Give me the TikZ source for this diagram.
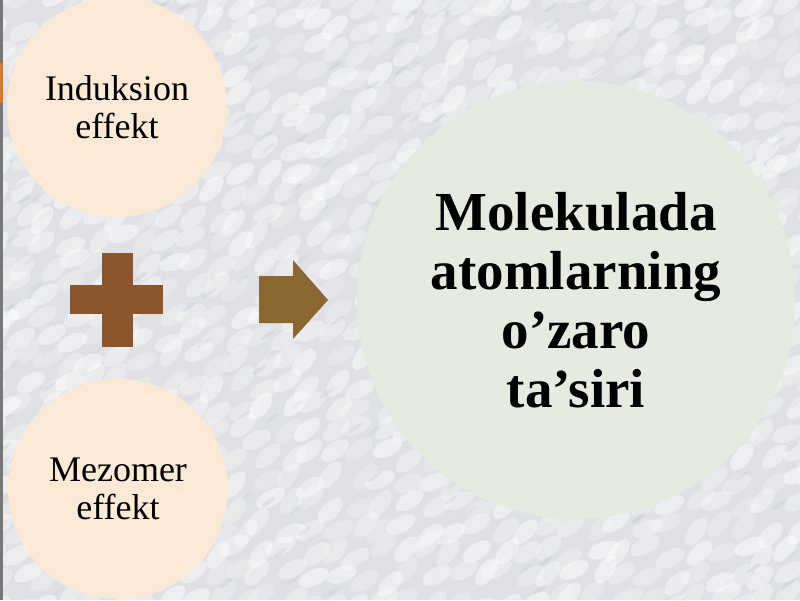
\documentclass[tikz,border=0pt]{standalone}
\usepackage{fontspec}
\setmainfont{Liberation Serif}
\definecolor{bgbase}{RGB}{223,225,228}
\definecolor{bgdark}{RGB}{165,170,178}
\definecolor{peach}{RGB}{252,234,215}
\definecolor{sage}{RGB}{230,235,226}
\definecolor{plusbrown}{RGB}{139,86,45}
\definecolor{arrowbrown}{RGB}{139,104,50}
\definecolor{edgegrey}{RGB}{120,120,120}
\definecolor{edgeorange}{RGB}{220,120,40}
\tikzset{
  smallcirc/.style={circle, fill=peach, minimum size=220pt, inner sep=0pt, align=center,
    font=\fontsize{36}{38}\selectfont},
  bigcirc/.style={circle, fill=sage, minimum size=438pt, inner sep=0pt, align=center,
    font=\fontsize{55}{59}\selectfont\bfseries},
}
\begin{document}
\begin{tikzpicture}[x=1pt,y=-1pt]
\useasboundingbox (0,0) rectangle (800,600);
\clip (0,0) rectangle (800,600);
\fill[bgbase] (0,0) rectangle (800,600);
% soft knit-like texture
\pgfmathsetseed{7}
\foreach \i in {0,...,34}{
  \foreach \j in {0,...,26}{
    \pgfmathsetmacro{\xx}{\i*24+rnd*16-8}
    \pgfmathsetmacro{\yy}{\j*24+rnd*16-8}
    \pgfmathsetmacro{\rr}{20+rnd*35}
    \pgfmathsetmacro{\oo}{0.2+rnd*0.3}
    \fill[white,opacity=\oo,rotate around={\rr:(\xx,\yy)}] (\xx,\yy) ellipse (16 and 8);
  }
}
\pgfmathsetseed{11}
\foreach \k in {1,...,260}{
  \pgfmathsetmacro{\xx}{rnd*800}
  \pgfmathsetmacro{\yy}{rnd*600}
  \pgfmathsetmacro{\oo}{0.06+rnd*0.15}
  \fill[bgdark,opacity=\oo,rotate around={35:(\xx,\yy)}] (\xx,\yy) ellipse (8 and 2);
}
% left edge
\fill[edgegrey] (0,0) rectangle (2.5,600);
\fill[edgeorange] (0,63) rectangle (2.5,103);
% circles
\node[smallcirc] (ind) at (117,107) {Induksion\\effekt};
\node[smallcirc] (mez) at (118,489) {Mezomer\\effekt};
\node[bigcirc] (mol) at (576,300) {Molekulada\\atomlarning\\o’zaro\\ta’siri};
% plus sign
\fill[plusbrown] (102,253) rectangle (133,347);
\fill[plusbrown] (70,285) rectangle (163,314);
% block arrow
\fill[arrowbrown] (259,276) -- (293,276) -- (293,260) -- (328,300) -- (293,339) -- (293,323) -- (259,323) -- cycle;
\end{tikzpicture}
\end{document}
